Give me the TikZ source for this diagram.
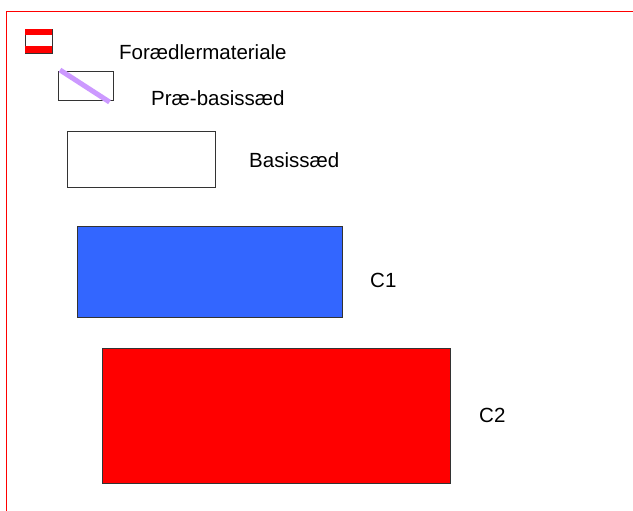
\documentclass[tikz,border=0pt]{standalone}
\usepackage{fontspec}
\setmainfont{Liberation Sans}
\definecolor{cblue}{HTML}{3366FF}
\definecolor{cred}{HTML}{FF0000}
\definecolor{lav}{HTML}{CC99FF}
\definecolor{edge}{HTML}{333333}
\begin{document}
\begin{tikzpicture}[x=1pt,y=-1pt,
  box/.style={draw=edge,line width=1pt,anchor=north west,inner sep=0pt,outer sep=0pt},
  lbl/.style={anchor=base west,inner sep=0pt,font=\fontsize{20.5pt}{24pt}\selectfont}]
\useasboundingbox (0,0) rectangle (633,511);
\fill[white] (0,0) rectangle (633,511);
% frame lines
\coordinate (fc) at (6,11.5);
\coordinate (fr) at (633,11.5);
\coordinate (fb) at (6,511);
\draw[cred,line width=1.5pt] (fc) -- (fr);
\draw[cred,line width=0.9pt] (fc) -- (fb);
% legend icon 1
\node[box,draw=edge,line width=0.6pt,minimum width=27pt,minimum height=24pt] (ic1) at (25,29) {};
\fill[cred] (ic1.north west) rectangle ([yshift=-6pt]ic1.north east);
\fill[cred] ([yshift=6.5pt]ic1.south west) rectangle (ic1.south east);
\node[lbl] (t1) at (119,59.3) {Forædlermateriale};
% legend icon 2
\node[box,minimum width=55.5pt,minimum height=29pt] (ic2) at (58,72) {};
\draw[lav,line width=5pt] ([xshift=2pt,yshift=2pt]ic2.north west) -- ([xshift=-4pt,yshift=-1pt]ic2.south east);
\node[lbl] (t2) at (151,106) {Præ-basissæd};
% boxes
\node[box,fill=white,minimum width=148.5pt,minimum height=55.5pt] (b) at (67,131.8) {};
\node[lbl] (tb) at (249,167.7) {Basissæd};
\node[box,fill=cblue,minimum width=265pt,minimum height=91.5pt] (c1) at (77.7,226.2) {};
\node[lbl] (tc1) at (370,287.3) {C1};
\node[box,fill=cred,minimum width=348.5pt,minimum height=134.7pt] (c2) at (102.3,348.7) {};
\node[lbl] (tc2) at (479,422.3) {C2};
\end{tikzpicture}
\end{document}
